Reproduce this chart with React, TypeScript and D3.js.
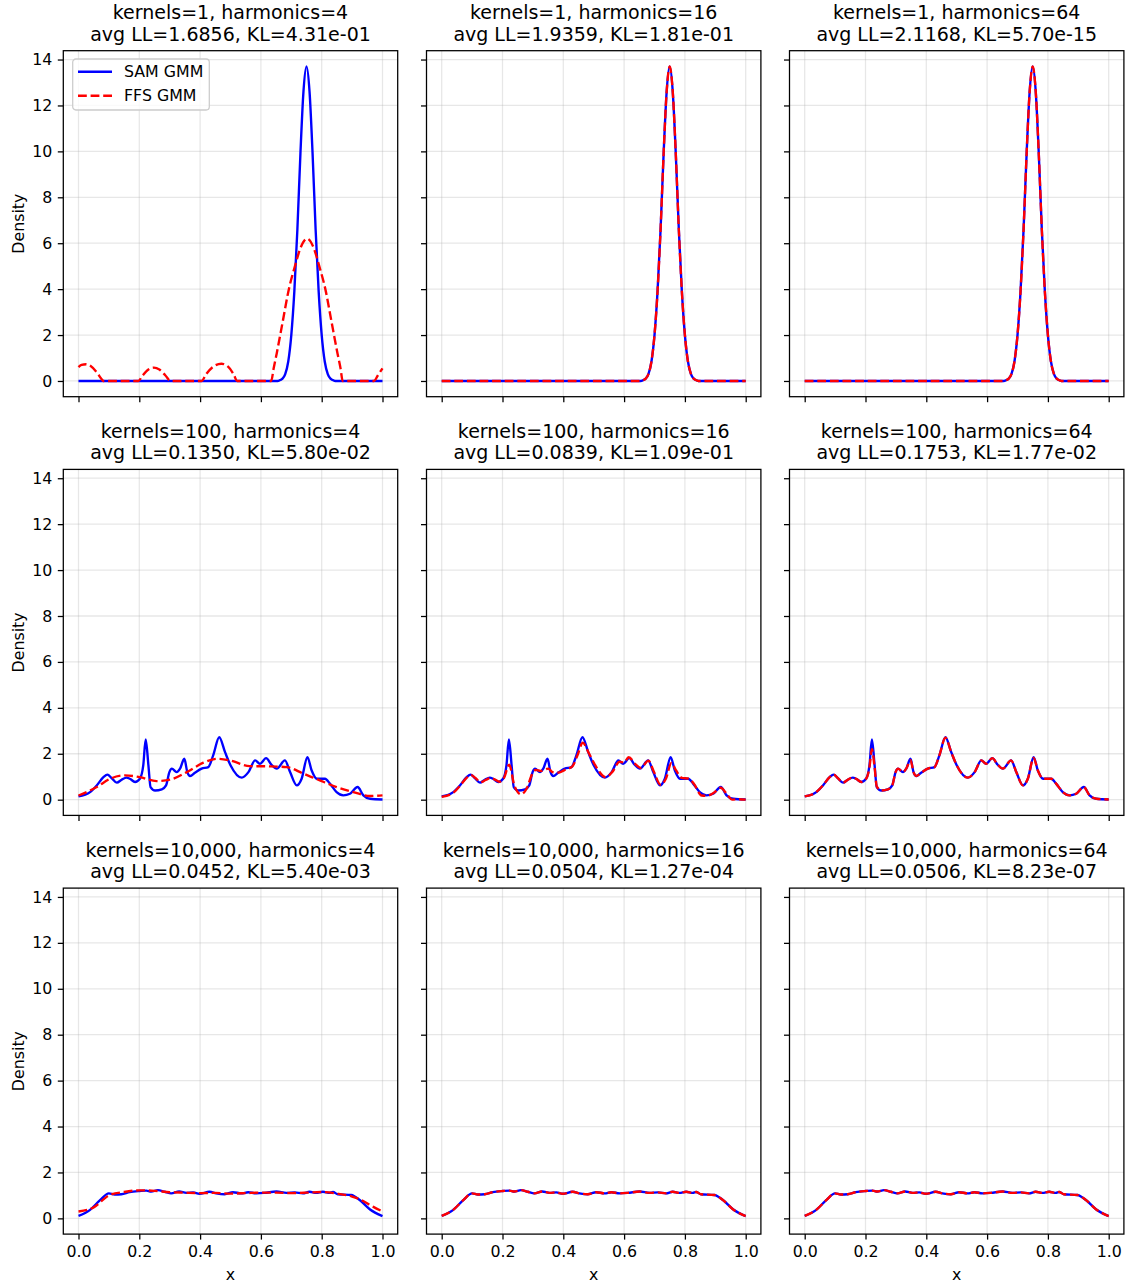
import React, { useEffect, useRef } from 'react';
import * as d3 from 'd3';

// ---- data ----
const kernelLabels = ['1', '100', '10,000'];
const harmonics = [4, 16, 64];
const avgLL = [
  ['1.6856', '1.9359', '2.1168'],
  ['0.1350', '0.0839', '0.1753'],
  ['0.0452', '0.0504', '0.0506'],
];
const klValues = [
  ['4.31e-01', '1.81e-01', '5.70e-15'],
  ['5.80e-02', '1.09e-01', '1.77e-02'],
  ['5.40e-03', '1.27e-04', '8.23e-07'],
];
const xTicks = [0, 0.2, 0.4, 0.6, 0.8, 1.0];
const yTicks = [0, 2, 4, 6, 8, 10, 12, 14];

type Pt = [number, number];

// SAM GMM, 1 kernel
const samK1: Pt[] = [
  [0, 0], [0.6, 0], [0.65, 0], [0.66, 0.02], [0.67, 0.09], [0.68, 0.3], [0.69, 0.85],
  [0.7, 2.0], [0.71, 3.9], [0.72, 6.6], [0.73, 9.9], [0.74, 12.6], [0.75, 13.7],
  [0.76, 12.6], [0.77, 9.9], [0.78, 6.6], [0.79, 3.9], [0.8, 2.0], [0.81, 0.85],
  [0.82, 0.3], [0.83, 0.09], [0.84, 0.02], [0.85, 0], [1.0, 0],
];
// FFS GMM, 1 kernel, 4 harmonics (clipped at 0)
const ffsK1H4: Pt[] = [
  [0, 0.6], [0.01, 0.7], [0.025, 0.73], [0.04, 0.65], [0.06, 0.38], [0.075, 0.1], [0.082, 0],
  [0.197, 0], [0.21, 0.22], [0.23, 0.5], [0.248, 0.58], [0.266, 0.5], [0.286, 0.24], [0.303, 0],
  [0.405, 0], [0.42, 0.3], [0.445, 0.64], [0.47, 0.75], [0.492, 0.62], [0.51, 0.3], [0.522, 0],
  [0.634, 0], [0.642, 0.55], [0.652, 1.2], [0.672, 2.6], [0.692, 4.0], [0.712, 5.0], [0.732, 5.85],
  [0.752, 6.2], [0.772, 5.85], [0.792, 5.0], [0.812, 4.0], [0.832, 2.6], [0.852, 1.2], [0.862, 0.55],
  [0.869, 0], [0.972, 0], [0.985, 0.25], [1.0, 0.55],
];

// SAM GMM, 100 kernels
const samK100: Pt[] = [
  [0, 0.14], [0.038, 0.33], [0.06, 0.62], [0.082, 0.98], [0.095, 1.09], [0.109, 0.94], [0.126, 0.74],
  [0.142, 0.87], [0.158, 0.96], [0.169, 0.91], [0.186, 0.77], [0.202, 0.91], [0.213, 1.49],
  [0.221, 2.62], [0.23, 1.49], [0.237, 0.55], [0.252, 0.4], [0.274, 0.45], [0.288, 0.62],
  [0.299, 1.2], [0.307, 1.35], [0.323, 1.2], [0.334, 1.35], [0.348, 1.78], [0.358, 1.2],
  [0.367, 1.03], [0.383, 1.17], [0.405, 1.35], [0.427, 1.42], [0.443, 1.93], [0.463, 2.72],
  [0.482, 2.07], [0.5, 1.5], [0.537, 0.96], [0.559, 1.2], [0.581, 1.71], [0.597, 1.56],
  [0.617, 1.81], [0.635, 1.52], [0.652, 1.35], [0.679, 1.71], [0.696, 1.2], [0.718, 0.62],
  [0.734, 0.91], [0.753, 1.85], [0.767, 1.27], [0.784, 0.91], [0.811, 0.91], [0.827, 0.7],
  [0.849, 0.33], [0.871, 0.19], [0.893, 0.26], [0.918, 0.55], [0.937, 0.19], [0.959, 0.04],
  [1.0, 0.01],
];
const ffsK100H4: Pt[] = [
  [0, 0.18], [0.06, 0.55], [0.104, 0.91], [0.153, 1.06], [0.202, 0.98], [0.257, 0.81],
  [0.301, 0.87], [0.356, 1.2], [0.411, 1.61], [0.455, 1.78], [0.498, 1.71], [0.564, 1.46],
  [0.63, 1.45], [0.685, 1.42], [0.74, 1.13], [0.794, 0.84], [0.849, 0.55], [0.904, 0.33],
  [0.959, 0.16], [1.0, 0.19],
];
const ffsK100H16: Pt[] = [
  [0, 0.12], [0.038, 0.3], [0.06, 0.6], [0.082, 0.95], [0.097, 1.07], [0.112, 0.93], [0.128, 0.76],
  [0.145, 0.86], [0.16, 0.93], [0.172, 0.9], [0.19, 0.78], [0.205, 0.95], [0.222, 1.52],
  [0.239, 0.62], [0.261, 0.23], [0.28, 0.5], [0.297, 1.1], [0.31, 1.3], [0.325, 1.25],
  [0.35, 1.35], [0.365, 1.2], [0.385, 1.18], [0.405, 1.3], [0.43, 1.45], [0.447, 1.95],
  [0.464, 2.48], [0.485, 2.0], [0.505, 1.5], [0.54, 0.98], [0.562, 1.22], [0.585, 1.65],
  [0.6, 1.62], [0.615, 1.85], [0.637, 1.55], [0.655, 1.38], [0.68, 1.7], [0.697, 1.25],
  [0.72, 0.65], [0.737, 0.9], [0.756, 1.6], [0.77, 1.3], [0.79, 0.95], [0.812, 0.92],
  [0.83, 0.68], [0.855, 0.18], [0.872, 0.17], [0.895, 0.3], [0.918, 0.52], [0.94, 0.2],
  [0.955, 0.0], [0.975, 0.02], [1.0, 0.0],
];
const ffsK100H64: Pt[] = [
  [0, 0.14], [0.038, 0.33], [0.06, 0.62], [0.082, 0.98], [0.095, 1.09], [0.109, 0.94], [0.126, 0.74],
  [0.142, 0.87], [0.158, 0.96], [0.169, 0.91], [0.186, 0.77], [0.202, 0.91], [0.213, 1.4],
  [0.221, 2.2], [0.23, 1.4], [0.237, 0.58], [0.252, 0.4], [0.274, 0.45], [0.288, 0.62],
  [0.299, 1.2], [0.307, 1.35], [0.323, 1.2], [0.334, 1.35], [0.348, 1.72], [0.358, 1.2],
  [0.367, 1.03], [0.383, 1.17], [0.405, 1.35], [0.427, 1.42], [0.443, 1.93], [0.463, 2.7],
  [0.482, 2.07], [0.5, 1.5], [0.537, 0.96], [0.559, 1.2], [0.581, 1.71], [0.597, 1.56],
  [0.617, 1.81], [0.635, 1.52], [0.652, 1.35], [0.679, 1.71], [0.696, 1.2], [0.718, 0.62],
  [0.734, 0.91], [0.753, 1.82], [0.767, 1.27], [0.784, 0.91], [0.811, 0.91], [0.827, 0.7],
  [0.849, 0.33], [0.871, 0.19], [0.893, 0.26], [0.918, 0.55], [0.937, 0.19], [0.959, 0.04],
  [1.0, 0.01],
];

// SAM GMM, 10,000 kernels
const samK10000: Pt[] = [
  [0, 0.11], [0.037, 0.36], [0.07, 0.78], [0.1, 1.09], [0.119, 1.04], [0.141, 1.05], [0.168, 1.14],
  [0.201, 1.19], [0.223, 1.21], [0.239, 1.17], [0.261, 1.23], [0.283, 1.16], [0.305, 1.09],
  [0.331, 1.17], [0.355, 1.11], [0.377, 1.13], [0.398, 1.07], [0.431, 1.16], [0.453, 1.09],
  [0.481, 1.05], [0.508, 1.14], [0.536, 1.09], [0.558, 1.14], [0.585, 1.09], [0.612, 1.11],
  [0.651, 1.17], [0.684, 1.11], [0.711, 1.13], [0.738, 1.09], [0.76, 1.16], [0.782, 1.11],
  [0.804, 1.16], [0.826, 1.11], [0.837, 1.15], [0.853, 1.05], [0.897, 1.02], [0.925, 0.8],
  [0.958, 0.4], [1.0, 0.1],
];
const ffsK10000H4: Pt[] = [
  [0, 0.3], [0.05, 0.48], [0.1, 1.0], [0.15, 1.15], [0.2, 1.22], [0.25, 1.2], [0.3, 1.14],
  [0.35, 1.12], [0.4, 1.1], [0.45, 1.11], [0.5, 1.08], [0.55, 1.1], [0.6, 1.12], [0.65, 1.12],
  [0.7, 1.1], [0.75, 1.12], [0.8, 1.15], [0.85, 1.08], [0.9, 0.95], [0.93, 0.8], [0.97, 0.5],
  [1.0, 0.3],
];

const samRows = [samK1, samK100, samK10000];
const ffsRows = [
  [ffsK1H4, samK1, samK1],
  [ffsK100H4, ffsK100H16, ffsK100H64],
  [ffsK10000H4, samK10000, samK10000],
];

const W = 1128;
const H = 1285;
const colLeft = [63.3, 426.5, 789.5];
const rowTop = [50.7, 469.4, 888.1];
const pw = 334.4;
const ph = 346;
const FONT = 'DejaVu Sans, sans-serif';
const LABEL_SIZE = '15.8px';
const TITLE_SIZE = '19px';
const LW = 2.37;
const DASH = '8.8,3.8';

const App = () => {
  const svgRef = useRef<SVGSVGElement>(null);

  useEffect(() => {
    const svg = d3.select(svgRef.current);
    svg.selectAll('*').remove();

    const x = d3.scaleLinear().domain([-0.05, 1.05]).range([0, pw]);
    const y = d3.scaleLinear().domain([-0.685, 14.385]).range([ph, 0]);
    const line = d3.line<Pt>()
      .x(d => x(d[0]))
      .y(d => y(d[1]))
      .curve(d3.curveMonotoneX);

    for (let r = 0; r < 3; r++) {
      for (let c = 0; c < 3; c++) {
        const g = svg.append('g')
          .attr('transform', `translate(${colLeft[c]},${rowTop[r]})`);

        // grid
        g.selectAll('.gx').data(xTicks).enter().append('line')
          .attr('x1', d => x(d)).attr('x2', d => x(d))
          .attr('y1', 0).attr('y2', ph)
          .attr('stroke', '#b0b0b0').attr('stroke-opacity', 0.3).attr('stroke-width', 1.27);
        g.selectAll('.gy').data(yTicks).enter().append('line')
          .attr('x1', 0).attr('x2', pw)
          .attr('y1', d => y(d)).attr('y2', d => y(d))
          .attr('stroke', '#b0b0b0').attr('stroke-opacity', 0.3).attr('stroke-width', 1.27);

        // curves
        g.append('path')
          .datum(samRows[r])
          .attr('fill', 'none')
          .attr('stroke', '#0000ff')
          .attr('stroke-width', LW)
          .attr('stroke-linejoin', 'round')
          .attr('d', line);
        g.append('path')
          .datum(ffsRows[r][c])
          .attr('fill', 'none')
          .attr('stroke', '#ff0000')
          .attr('stroke-width', LW)
          .attr('stroke-dasharray', DASH)
          .attr('d', line);

        // axes
        const ay = g.append('g')
          .call(d3.axisLeft(y).tickValues(yTicks).tickSize(5.5).tickPadding(5.5)
            .tickFormat(c === 0 ? (d3.format('d') as any) : () => ''));
        const ax = g.append('g')
          .attr('transform', `translate(0,${ph})`)
          .call(d3.axisBottom(x).tickValues(xTicks).tickSize(5.5).tickPadding(6.5)
            .tickFormat(r === 2 ? (d3.format('.1f') as any) : () => ''));
        [ax, ay].forEach(a => {
          a.select('.domain').remove();
          a.selectAll('line').attr('stroke', '#000').attr('stroke-width', 1.27);
          a.selectAll('text')
            .attr('fill', '#000')
            .style('font-size', LABEL_SIZE)
            .style('font-family', FONT);
        });

        // spines
        g.append('rect')
          .attr('width', pw).attr('height', ph)
          .attr('fill', 'none').attr('stroke', '#000').attr('stroke-width', 1.27);

        // titles
        const title = g.append('text')
          .attr('text-anchor', 'middle')
          .style('font-family', FONT)
          .style('font-size', TITLE_SIZE)
          .attr('fill', '#000');
        title.append('tspan').attr('x', pw / 2).attr('y', -31.4)
          .text(`kernels=${kernelLabels[r]}, harmonics=${harmonics[c]}`);
        title.append('tspan').attr('x', pw / 2).attr('y', -10)
          .text(`avg LL=${avgLL[r][c]}, KL=${klValues[r][c]}`);

        if (c === 0) {
          g.append('text')
            .attr('transform', `translate(-45,${ph / 2}) rotate(-90)`)
            .attr('text-anchor', 'middle')
            .attr('dominant-baseline', 'central')
            .style('font-family', FONT)
            .style('font-size', LABEL_SIZE)
            .text('Density');
        }
        if (r === 2) {
          g.append('text')
            .attr('x', pw / 2).attr('y', ph + 45.9)
            .attr('text-anchor', 'middle')
            .style('font-family', FONT)
            .style('font-size', LABEL_SIZE)
            .text('x');
        }

        // legend
        if (r === 0 && c === 0) {
          const lg = g.append('g').attr('transform', 'translate(9.4,8.3)');
          lg.append('rect')
            .attr('width', 136.6).attr('height', 51).attr('rx', 3.2)
            .attr('fill', '#fff').attr('fill-opacity', 0.8)
            .attr('stroke', '#cccccc').attr('stroke-width', 1.27);
          const items = [
            { label: 'SAM GMM', color: '#0000ff', dash: null },
            { label: 'FFS GMM', color: '#ff0000', dash: DASH },
          ];
          items.forEach((it, i) => {
            const yy = 12.7 + i * 24;
            lg.append('line')
              .attr('x1', 5.3).attr('x2', 39.3).attr('y1', yy).attr('y2', yy)
              .attr('stroke', it.color).attr('stroke-width', LW)
              .attr('stroke-dasharray', it.dash);
            lg.append('text')
              .attr('x', 51.3).attr('y', yy).attr('dy', '0.35em')
              .style('font-family', FONT).style('font-size', LABEL_SIZE)
              .text(it.label);
          });
        }
      }
    }
  }, []);

  return (
    <svg
      ref={svgRef}
      width={W}
      height={H}
      style={{ position: 'absolute', left: 0, top: 0, background: '#fff' }}
    />
  );
};

export default App;
